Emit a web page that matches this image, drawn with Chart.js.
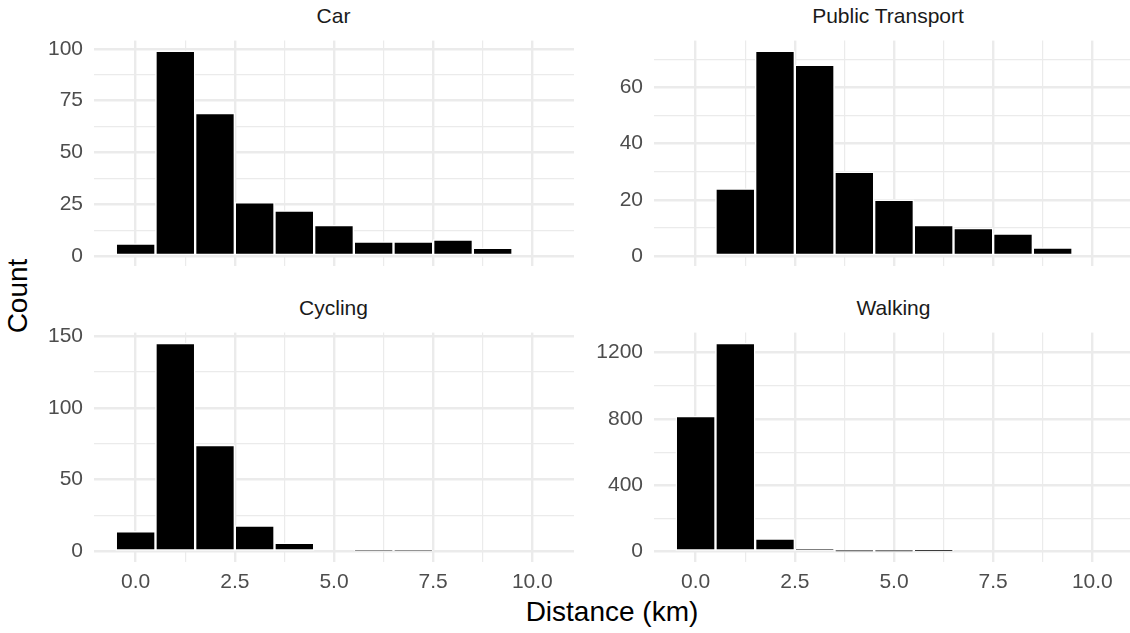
<!DOCTYPE html>
<html>
<head>
<meta charset="utf-8">
<script src="https://cdn.jsdelivr.net/npm/chart.js@4/dist/chart.umd.min.js"></script>
<style>
  html, body { margin:0; padding:0; background:#fff; width:1130px; height:633px; overflow:hidden; position:relative; font-family:"Liberation Sans", Arial, sans-serif; }
  canvas { position:absolute; }
  .t { position:absolute; white-space:nowrap; transform:translate(-50%,-50%); line-height:1; }
  .strip { font-size:21px; color:#1A1A1A; }
  .axt { font-size:28px; color:#000; }
</style>
</head>
<body>
<div class="t strip" style="left:333.5px; top:15px;">Car</div>
<div class="t strip" style="left:888px; top:15px;">Public Transport</div>
<div class="t strip" style="left:333.5px; top:307px;">Cycling</div>
<div class="t strip" style="left:893.5px; top:307px;">Walking</div>
<div class="t axt" style="left:18px; top:296px; transform:translate(-50%,-50%) rotate(-90deg);">Count</div>
<div class="t axt" style="left:612px; top:612px;">Distance (km)</div>

<canvas id="car"></canvas>
<canvas id="pt"></canvas>
<canvas id="cyc"></canvas>
<canvas id="walk"></canvas>

<script>
// ---- data (histogram bins of width 1, centred on integers) ----
const binCenters     = [0, 1, 2, 3, 4, 5, 6, 7, 8, 9, 10];
const carCounts      = [6, 99, 69, 26, 22, 15, 7, 7, 8, 4, 0];
const ptCounts       = [0, 24, 73, 68, 30, 20, 11, 10, 8, 3, 0];
const cyclingCounts  = [14, 145, 74, 18, 6, 0, 1, 1, 0, 0, 0];
const walkingCounts  = [818, 1258, 78, 15, 1, 1, 5, 0, 0, 0, 0];

const xMajorTicks = [0, 2.5, 5, 7.5, 10];
const xMinorTicks = [1.25, 3.75, 6.25, 8.75];
const carYMajor = [0, 25, 50, 75, 100];
const carYMinor = [12.5, 37.5, 62.5, 87.5];
const ptYMajor = [0, 20, 40, 60];
const ptYMinor = [10, 30, 50, 70];
const cycYMajor = [0, 50, 100, 150];
const cycYMinor = [25, 75, 125];
const walkYMajor = [0, 400, 800, 1200];
const walkYMinor = [200, 600, 1000];

const FONT = '"Liberation Sans", Arial, sans-serif';
const GRID = '#EBEBEB';
const TICK_SIZE = 21;
const Y_AXIS_W = 90, PAD_T = 20, PAD_R = 20, X_AXIS_H = 32, PAD_B = 20;

function makePanel(id, counts, yMajor, yMinor, showX, rect) {
  const cv = document.getElementById(id);
  const W = rect.right - rect.left, H = rect.bottom - rect.top;
  const cw = W + Y_AXIS_W + PAD_R;
  const ch = H + PAD_T + PAD_B + (showX ? X_AXIS_H : 0);
  cv.width = cw; cv.height = ch;
  cv.style.width = cw + 'px'; cv.style.height = ch + 'px';
  cv.style.left = (rect.left - Y_AXIS_W) + 'px';
  cv.style.top = (rect.top - PAD_T) + 'px';

  const maxC = Math.max(...counts);
  const xMin = binCenters[0] - 0.5, xMax = binCenters[binCenters.length - 1] + 0.5;
  const xExp = (xMax - xMin) * 0.05;

  new Chart(cv, {
    type: 'bar',
    data: {
      datasets: [{
        data: binCenters.map((x, i) => ({ x: x, y: counts[i] })),
        backgroundColor: '#000000',
        borderColor: '#FFFFFF',
        borderWidth: 1.5,
        borderSkipped: false,
        barPercentage: 1,
        categoryPercentage: 1
      }]
    },
    options: {
      responsive: false,
      animation: false,
      devicePixelRatio: 1,
      layout: { padding: { left: 0, top: PAD_T, right: PAD_R, bottom: PAD_B } },
      plugins: { legend: { display: false }, tooltip: { enabled: false }, title: { display: false } },
      scales: {
        x: {
          type: 'linear',
          offset: false,
          min: xMin - xExp,
          max: xMax + xExp,
          afterBuildTicks: s => { s.ticks = [...xMajorTicks, ...xMinorTicks].sort((a, b) => a - b).map(v => ({ value: v })); },
          afterFit: s => { s.height = showX ? X_AXIS_H : 0; },
          border: { display: false },
          grid: {
            offset: false,
            color: GRID,
            drawTicks: false,
            lineWidth: c => (xMajorTicks.includes(c.tick.value) ? 2.4 : 1.2)
          },
          ticks: {
            display: showX,
            autoSkip: false,
            maxRotation: 0,
            padding: 8,
            color: '#4D4D4D',
            font: { family: FONT, size: TICK_SIZE },
            callback: v => (xMajorTicks.includes(v) ? v.toFixed(1) : '')
          }
        },
        y: {
          type: 'linear',
          min: -0.05 * maxC,
          max: 1.05 * maxC,
          afterBuildTicks: s => { s.ticks = [...yMajor, ...yMinor].sort((a, b) => a - b).map(v => ({ value: v })); },
          afterFit: s => { s.width = Y_AXIS_W; },
          border: { display: false },
          grid: {
            color: GRID,
            drawTicks: false,
            lineWidth: c => (yMajor.includes(c.tick.value) ? 2.4 : 1.2)
          },
          ticks: {
            autoSkip: false,
            padding: 11,
            color: '#4D4D4D',
            font: { family: FONT, size: TICK_SIZE },
            callback: v => (yMajor.includes(v) ? String(v) : '')
          }
        }
      }
    }
  });
}

makePanel('car',  carCounts,     carYMajor,  carYMinor,  false, { left: 93.5,  right: 573.5,  top: 37,  bottom: 270 });
makePanel('pt',   ptCounts,      ptYMajor,   ptYMinor,   false, { left: 653.5, right: 1133.5, top: 37,  bottom: 270 });
makePanel('cyc',  cyclingCounts, cycYMajor,  cycYMinor,  true,  { left: 93.5,  right: 573.5,  top: 329, bottom: 562 });
makePanel('walk', walkingCounts, walkYMajor, walkYMinor, true,  { left: 653.5, right: 1133.5, top: 329, bottom: 562 });
</script>
</body>
</html>
